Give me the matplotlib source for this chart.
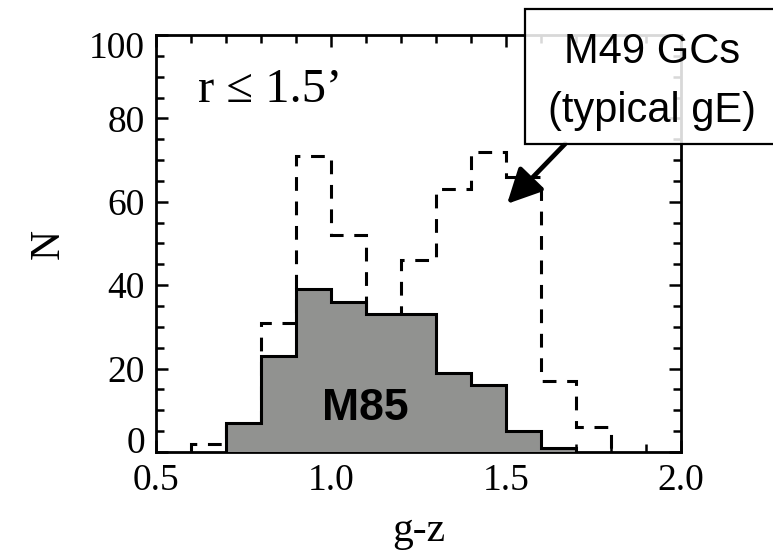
import matplotlib
matplotlib.use("Agg")
import matplotlib.pyplot as plt
import matplotlib.transforms as mtransforms
from matplotlib.patches import Rectangle
from matplotlib.ticker import MultipleLocator

# g-z colour histograms, r <= 1.5'
m85_edges = [0.7, 0.8, 0.9, 1.0, 1.1, 1.2, 1.3, 1.4, 1.5, 1.6, 1.7]
m85_counts = [7, 23, 39, 36, 33, 33, 19, 16, 5, 1]

m49_edges = [0.6, 0.7, 0.8, 0.9, 1.0, 1.1, 1.2, 1.3, 1.4, 1.5, 1.6, 1.7, 1.8]
m49_counts = [2, 6, 31, 71, 52, 30, 46, 63, 72, 66, 17, 6]

x_ticks = [0.5, 1.0, 1.5, 2.0]
x_labels = ["0.5", "1.0", "1.5", "2.0"]
y_ticks = [0, 20, 40, 60, 80, 100]

serif = ["Liberation Serif", "DejaVu Serif"]
sans = ["Liberation Sans", "DejaVu Sans"]
plt.rcParams["font.family"] = serif

fig = plt.figure(figsize=(7.73, 5.55), dpi=100)
ax = fig.add_axes([0.2018, 0.1856, 0.6792, 0.7514])

# M49 dashed histogram underneath, M85 filled grey on top
ax.stairs(m49_counts, m49_edges, baseline=0, color="black", lw=2.2,
          linestyle=(0, (4.5, 3.5)), zorder=2)
ax.stairs(m85_counts, m85_edges, baseline=0, fill=True,
          color="#919290", zorder=3)
ax.stairs(m85_counts, m85_edges, baseline=0, color="black", lw=2.2, zorder=4)

ax.set_xlim(0.5, 2.0)
ax.set_ylim(0, 100)
ax.xaxis.set_minor_locator(MultipleLocator(0.1))
ax.yaxis.set_minor_locator(MultipleLocator(5))
ax.tick_params(which="both", direction="in", top=True, right=True,
               width=1.8, colors="black")
ax.tick_params(which="major", length=8.5, pad=8)
ax.tick_params(which="minor", length=5.5)
ax.set_xticks(x_ticks)
ax.set_xticklabels(x_labels, fontsize=27)
ax.set_yticks(y_ticks)
ax.set_yticklabels([str(v) for v in y_ticks], fontsize=27)
for sp in ax.spines.values():
    sp.set_linewidth(2.0)

# end labels sit a bit inside the frame, like the original
ylabs = ax.get_yticklabels()
ylabs[0].set_transform(ylabs[0].get_transform() +
                       mtransforms.ScaledTranslation(0, 12 / 100, fig.dpi_scale_trans))
ylabs[-1].set_transform(ylabs[-1].get_transform() +
                        mtransforms.ScaledTranslation(0, -10 / 100, fig.dpi_scale_trans))

ax.set_xlabel("g-z", fontsize=30, labelpad=10)
ax.set_ylabel("N", fontsize=30, labelpad=15)

ax.text(0.62, 84, "r \u2264 1.5\u2019", fontsize=35, ha="left", va="baseline")
ax.text(1.097, 7.7, "M85", family=sans, fontsize=32, fontweight="bold",
        ha="center", va="baseline", zorder=5)

# callout box for M49 (half-transparent, frame shows through)
box = Rectangle((525 / 773, (555 - 144) / 555), 0.34, 135 / 555,
                transform=fig.transFigure, facecolor=(1, 1, 1, 0.85),
                edgecolor="black", lw=1.6, zorder=10, clip_on=False)
fig.add_artist(box)
fig.text(652 / 773, (555 - 63) / 555, "M49 GCs", family=sans, fontsize=30,
         ha="center", va="baseline", zorder=11)
fig.text(652 / 773, (555 - 122) / 555, "(typical gE)", family=sans, fontsize=30,
         ha="center", va="baseline", zorder=11)

ax.annotate("", xy=(1.503, 59.5), xytext=(1.669, 73.9),
            arrowprops=dict(arrowstyle="-|>,head_length=0.6,head_width=0.3",
                            lw=3.4, color="black", mutation_scale=35,
                            shrinkA=0, shrinkB=0),
            annotation_clip=False, zorder=12)

fig.savefig("out.png", dpi=100)
